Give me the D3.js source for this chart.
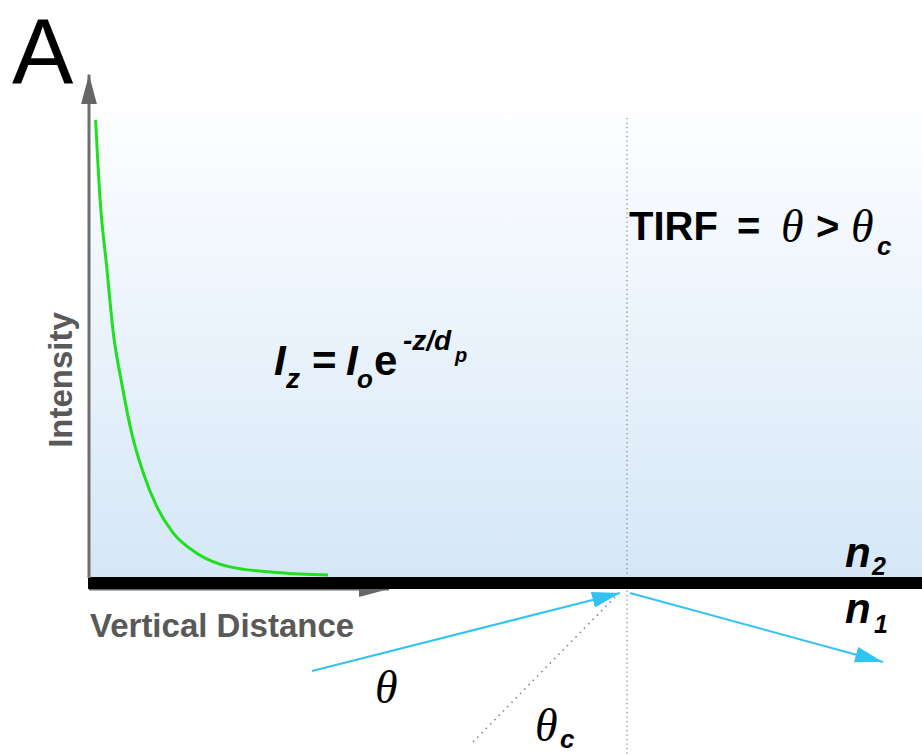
<!DOCTYPE html>
<html>
<head>
<meta charset="utf-8">
<script src="https://cdn.jsdelivr.net/npm/d3@7"></script>
<style>
  html, body { margin: 0; padding: 0; background: #fff; }
  svg { display: block; }
</style>
</head>
<body>
<script>
// ---- data ----
// Evanescent intensity profile (arbitrary units)
const distance  = [0.22, 0.37, 0.59, 0.81, 1.09, 1.42, 1.81, 2.26, 2.81, 3.59, 4.70, 6.37, 7.97];
const intensity = [1.00, 0.825, 0.678, 0.533, 0.423, 0.314, 0.226, 0.152, 0.094, 0.050, 0.020, 0.007, 0.002];
// axis extents (data units)
const xAxisMax = 10.0;
const yAxisMax = 1.10;
// ray geometry around the reflection point (geometry units)
const incidentRay  = [[-31.5, -8.0], [-0.7, -0.2]];
const reflectedRay = [[0.3, -0.2], [25.6, -7.1]];
const normalLine   = [[0, 47.3], [0, -16.3]];
const criticalLine = [[-1.2, -0.6], [-15.4, -15.1]];
// labels
const panelLabel = "A";
const yLabel = "Intensity";
const xLabel = "Vertical Distance";

const W = 922, H = 754;
const svg = d3.select("body").append("svg").attr("width", W).attr("height", H);

// scales
const x = d3.scaleLinear().domain([0, 10]).range([89, 389]);
const y = d3.scaleLinear().domain([0, 1]).range([576, 120]);
const gx = d3.scaleLinear().domain([0, 1]).range([627, 637]);
const gy = d3.scaleLinear().domain([0, 1]).range([591, 581]);

const defs = svg.append("defs");
const grad = defs.append("linearGradient").attr("id", "bg")
  .attr("x1", 0).attr("y1", 0).attr("x2", 0).attr("y2", 1);
grad.append("stop").attr("offset", "0%").attr("stop-color", "#ffffff");
grad.append("stop").attr("offset", "28%").attr("stop-color", "#f3f8fd");
grad.append("stop").attr("offset", "100%").attr("stop-color", "#d5e7f7");

function arrowMarker(id, color, len, half) {
  defs.append("marker").attr("id", id)
    .attr("markerUnits", "userSpaceOnUse")
    .attr("viewBox", `0 ${-half} ${len} ${2*half}`)
    .attr("refX", len).attr("refY", 0)
    .attr("markerWidth", len).attr("markerHeight", 2*half)
    .attr("orient", "auto")
    .append("path").attr("d", `M0,${-half}L${len},0L0,${half}Z`).attr("fill", color);
}
arrowMarker("grayHead", "#666666", 30, 8);
arrowMarker("blueHead", "#33c3f3", 28, 8);

// background gradient (medium n2)
svg.append("rect")
  .attr("x", x(0)).attr("y", 95)
  .attr("width", W - x(0)).attr("height", y(0) - 95 + 1)
  .attr("fill", "url(#bg)");

// normal (dotted vertical) and critical-angle line
const gline = d3.line().x(d => gx(d[0])).y(d => gy(d[1]));
svg.append("path").attr("d", gline(normalLine))
  .attr("stroke", "#8a8a8a").attr("stroke-width", 1.3)
  .attr("stroke-dasharray", "1.3,3.2").attr("fill", "none");
svg.append("path").attr("d", gline(criticalLine))
  .attr("stroke", "#8a8a8a").attr("stroke-width", 1.6)
  .attr("stroke-dasharray", "1.6,4.5").attr("fill", "none");

// x axis (gray arrow, partly hidden by interface)
svg.append("line")
  .attr("x1", x(0)).attr("y1", y(0) + 13)
  .attr("x2", x(xAxisMax)).attr("y2", y(0) + 13)
  .attr("stroke", "#666666").attr("stroke-width", 3)
  .attr("marker-end", "url(#grayHead)");

// interface bar
svg.append("rect")
  .attr("x", x(0) - 1).attr("y", y(0) + 1)
  .attr("width", W - x(0) + 1).attr("height", 12)
  .attr("fill", "#000");

// y axis
svg.append("line")
  .attr("x1", x(0)).attr("y1", y(0) + 2)
  .attr("x2", x(0)).attr("y2", y(yAxisMax))
  .attr("stroke", "#6e6e6e").attr("stroke-width", 3)
  .attr("marker-end", "url(#grayHead)");

// intensity curve
const pts = distance.map((d, i) => [d, intensity[i]]);
svg.append("path")
  .attr("d", d3.line().x(d => x(d[0])).y(d => y(d[1])).curve(d3.curveMonotoneX)(pts))
  .attr("fill", "none").attr("stroke", "#1fe01f").attr("stroke-width", 3);

// rays
[incidentRay, reflectedRay].forEach(r => {
  svg.append("path").attr("d", gline(r))
    .attr("stroke", "#33c3f3").attr("stroke-width", 2).attr("fill", "none")
    .attr("marker-end", "url(#blueHead)");
});

// ---- text ----
const sans = "'Liberation Sans', Arial, Helvetica, sans-serif";
const serif = "'Liberation Serif', 'Times New Roman', serif";

svg.append("text").text(panelLabel)
  .attr("x", 12).attr("y", 84)
  .attr("font-family", sans).attr("font-size", 92).attr("fill", "#000");

svg.append("text").text(yLabel)
  .attr("transform", "translate(72,380) rotate(-90)")
  .attr("text-anchor", "middle")
  .attr("font-family", sans).attr("font-weight", "bold").attr("font-size", 33)
  .attr("fill", "#595959");

svg.append("text").text(xLabel)
  .attr("x", 90).attr("y", 637)
  .attr("font-family", sans).attr("font-weight", "bold").attr("font-size", 33)
  .attr("fill", "#595959");

function t(str, px, py, size, opts = {}) {
  return svg.append("text").text(str)
    .attr("x", px).attr("y", py)
    .attr("font-family", opts.serif ? serif : sans)
    .attr("font-weight", opts.normal ? "normal" : "bold")
    .attr("font-style", opts.italic ? "italic" : "normal")
    .attr("font-size", size).attr("fill", "#000");
}

// TIRF = θ > θc
t("TIRF", 629, 240, 40);
t("=", 737, 240, 40);
t("θ", 781, 242, 46, {serif: true, italic: true, normal: true});
t(">", 816, 240, 40);
t("θ", 851, 242, 46, {serif: true, italic: true, normal: true});
t("c", 877, 255, 26, {italic: true});

// Iz = Io e^(-z/dp)
t("I", 274, 375, 42, {italic: true});
t("z", 286, 388, 28, {italic: true});
t("=", 312, 375, 42);
t("I", 346, 375, 42, {italic: true});
t("o", 357, 388, 26, {italic: true});
t("e", 374, 375, 42);
t("-z/d", 403, 350, 28, {italic: true});
t("p", 455, 362, 20, {italic: true});

// n2 / n1
t("n", 845, 567, 42, {italic: true});
t("2", 872, 575, 25, {italic: true});
t("n", 845, 623, 42, {italic: true});
t("1", 874, 633, 25, {italic: true});

// angle labels
t("θ", 375, 703, 46, {serif: true, italic: true, normal: true});
t("θ", 535, 741, 46, {serif: true, italic: true, normal: true});
t("c", 560, 748, 26, {italic: true});
</script>
</body>
</html>
